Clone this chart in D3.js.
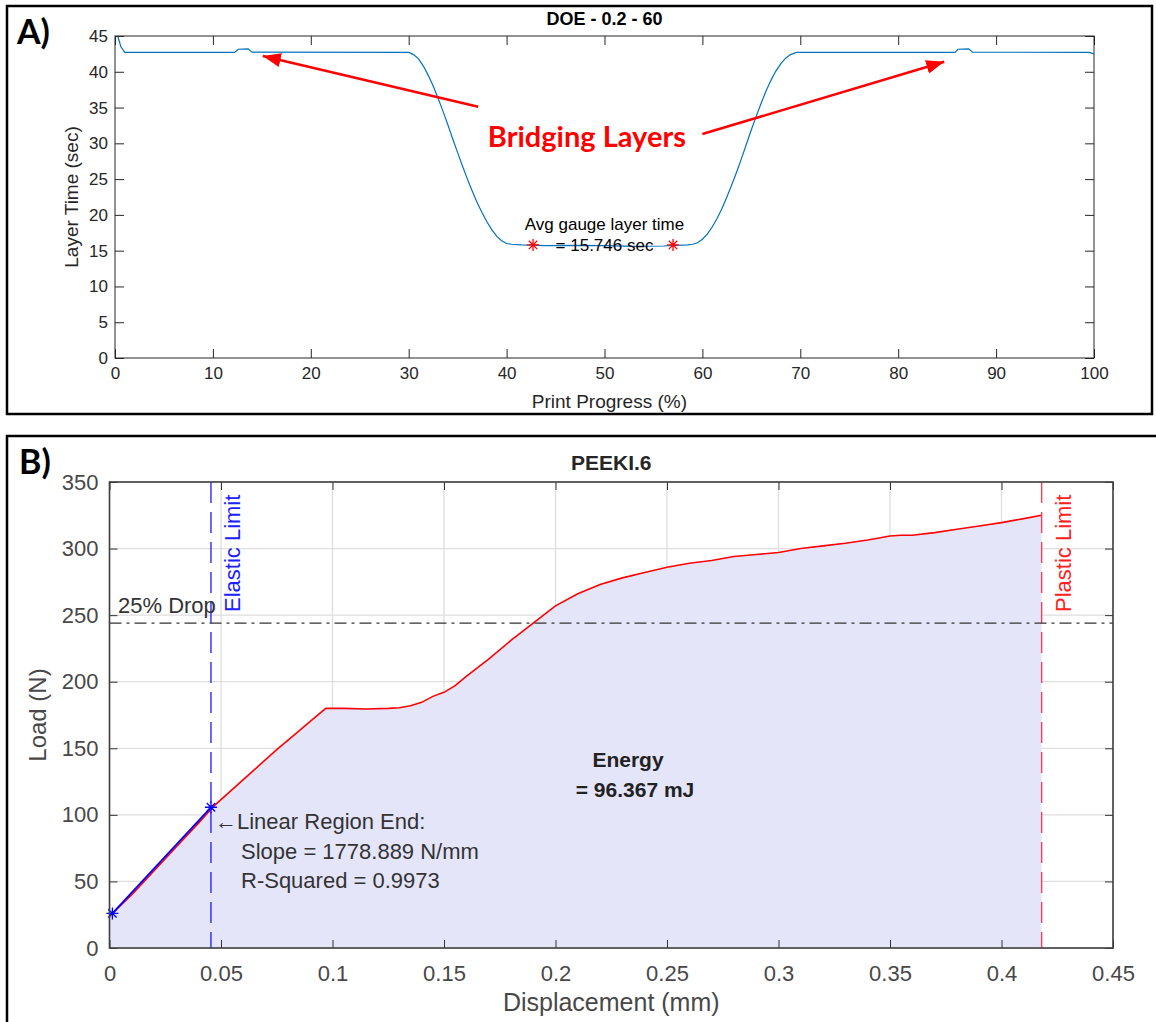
<!DOCTYPE html>
<html>
<head>
<meta charset="utf-8">
<script src="https://cdn.jsdelivr.net/npm/d3@7"></script>
<style>
body{margin:0;background:#fff;}
text{font-family:"Liberation Sans",Arial,sans-serif;}
</style>
</head>
<body>
<div id="chart"></div>
<script>
// ---- panel A data : layer time over the print
var printProgress = [0.3,0.6,1.0,12.2,12.6,13.6,14.0,30.0,30.5,31,31.5,32,32.5,33,33.5,34,34.5,35,35.5,36,36.5,37,37.5,38,38.5,39,39.5,40,40.5,41.5,44,47,50,53,56,58.5,59,59.5,60,60.5,61,61.5,62,62.5,63,63.5,64,64.5,65,65.5,66,66.5,67,67.5,68,68.5,69,69.6,85.8,86.1,87.2,87.6,99.5,100];
var layerTime = [44.9,43.5,42.7,42.7,43.15,43.2,42.75,42.7,42.4,41.8,40.8,39.5,38,36.3,34.5,32.6,30.6,28.7,26.8,25,23.3,21.7,20.3,19,17.9,17,16.4,16,15.9,15.8,15.7,15.75,15.7,15.6,15.65,15.8,15.9,16.1,16.6,17.3,18.3,19.5,20.9,22.5,24.2,26,27.9,29.9,31.9,33.8,35.6,37.3,38.8,40.1,41.1,41.9,42.4,42.7,42.7,43.15,43.2,42.75,42.7,42.5];
var gaugeMarks = [42.7, 57.0];
var gaugeMarkTime = 15.8;
var xTicksA = [0,10,20,30,40,50,60,70,80,90,100];
var yTicksA = [0,5,10,15,20,25,30,35,40,45];

// ---- panel B data : load vs displacement
var displacement = [0,0.0013,0.01,0.02,0.03,0.04,0.047,0.055,0.065,0.075,0.085,0.092,0.097,0.105,0.115,0.125,0.13,0.135,0.14,0.145,0.15,0.155,0.16,0.17,0.18,0.19,0.2,0.21,0.22,0.23,0.24,0.25,0.26,0.27,0.28,0.29,0.3,0.31,0.32,0.33,0.34,0.35,0.355,0.36,0.37,0.38,0.39,0.4,0.41,0.418];
var load = [24,26,40,58,76,94,107,119,134,149,163,173,180,180,179.5,180,180.5,182,184.5,189,192,197,204,217,231,244,257,266,273,278,282,286,289,291,294,295.5,297,300,302,304,306.5,309.5,310,310,312,314.5,317,319.5,322.5,325];
var fitDisp = [0.0013, 0.0455];
var fitLoad = [26, 105.7];
var elasticLimit = 0.0455;
var plasticLimit = 0.418;
var dropLoad = 244;
var xTicksB = [0,0.05,0.1,0.15,0.2,0.25,0.3,0.35,0.4,0.45];
var yTicksB = [0,50,100,150,200,250,300,350];

var svg = d3.select("#chart").append("svg")
	.attr("width", 1156)
	.attr("height", 1022);

var defs = svg.append("defs");
defs.append("marker")
	.attr("id", "arrowRed")
	.attr("markerUnits", "userSpaceOnUse")
	.attr("markerWidth", 20).attr("markerHeight", 14)
	.attr("refX", 18).attr("refY", 7)
	.attr("orient", "auto")
	.append("path").attr("d", "M0,0 L18,7 L0,14 z").attr("fill", "#ff0000");

// MATLAB style '*' marker
function star(g, x, y, r, color){
	var d = "M" + (x - r) + "," + y + "H" + (x + r) +
		"M" + x + "," + (y - r) + "V" + (y + r) +
		"M" + (x - r * 0.7) + "," + (y - r * 0.7) + "L" + (x + r * 0.7) + "," + (y + r * 0.7) +
		"M" + (x - r * 0.7) + "," + (y + r * 0.7) + "L" + (x + r * 0.7) + "," + (y - r * 0.7);
	g.append("path").attr("d", d).attr("stroke", color).attr("stroke-width", 1.3).attr("fill", "none");
}

function panelA(){
	var g = svg.append("g");
	g.append("rect").attr("x", 7).attr("y", 6).attr("width", 1145).attr("height", 408)
		.attr("fill", "none").attr("stroke", "#000").attr("stroke-width", 2.5);
	g.append("text").attr("x", 17).attr("y", 44).text("A)")
		.style("font-family", "Lato").style("font-weight", "bold").style("font-size", "34px");

	var x = d3.scaleLinear().domain([0, 100]).range([115, 1094]);
	var y = d3.scaleLinear().domain([0, 45]).range([358, 36]);

	// box ticks on all four sides
	g.append("g").attr("transform", "translate(0,358)")
		.call(d3.axisBottom(x).tickValues(xTicksA).tickSizeInner(-9).tickSizeOuter(0).tickPadding(9));
	g.append("g").attr("transform", "translate(0,36)")
		.call(d3.axisTop(x).tickValues(xTicksA).tickSizeInner(-9).tickSizeOuter(0).tickFormat(""));
	g.append("g").attr("transform", "translate(115,0)")
		.call(d3.axisLeft(y).tickValues(yTicksA).tickSizeInner(-9).tickSizeOuter(0).tickPadding(7));
	g.append("g").attr("transform", "translate(1094,0)")
		.call(d3.axisRight(y).tickValues(yTicksA).tickSizeInner(-9).tickSizeOuter(0).tickFormat(""));
	g.selectAll(".domain").remove();
	g.selectAll(".tick line").attr("stroke", "#262626");
	g.selectAll(".tick text").style("font-size", "17px").attr("fill", "#262626");
	g.append("rect").attr("x", 115).attr("y", 36).attr("width", 979).attr("height", 322)
		.attr("fill", "none").attr("stroke", "#262626").attr("stroke-width", 1);

	var line = d3.line().x(function(d, i){ return x(printProgress[i]); }).y(function(d){ return y(d); });
	g.append("path").attr("d", line(layerTime))
		.attr("fill", "none").attr("stroke", "#0072BD").attr("stroke-width", 1.2);

	gaugeMarks.forEach(function(m){ star(g, x(m), y(gaugeMarkTime), 6, "#ff0000"); });

	g.append("text").attr("x", x(50)).attr("y", 230).attr("text-anchor", "middle")
		.style("font-size", "17px").attr("fill", "#000").text("Avg gauge layer time");
	g.append("text").attr("x", x(50)).attr("y", 251).attr("text-anchor", "middle")
		.style("font-size", "17px").attr("fill", "#000").text("= 15.746 sec");

	g.append("text").attr("x", x(50)).attr("y", 25).attr("text-anchor", "middle")
		.style("font-size", "18px").style("font-weight", "bold").attr("fill", "#000").text("DOE - 0.2 - 60");
	g.append("text").attr("x", x(50.5)).attr("y", 408).attr("text-anchor", "middle")
		.style("font-size", "19px").attr("fill", "#262626").text("Print Progress (%)");
	g.append("text").attr("transform", "translate(78,197) rotate(-90)").attr("text-anchor", "middle")
		.style("font-size", "19px").attr("fill", "#262626").text("Layer Time (sec)");

	// bridging layer call-out
	g.append("line").attr("x1", x(37.1)).attr("y1", y(35.1)).attr("x2", x(15.1)).attr("y2", y(42.2))
		.attr("stroke", "#ff0000").attr("stroke-width", 2.5).attr("marker-end", "url(#arrowRed)");
	g.append("line").attr("x1", x(60.0)).attr("y1", y(31.3)).attr("x2", x(84.7)).attr("y2", y(41.4))
		.attr("stroke", "#ff0000").attr("stroke-width", 2.5).attr("marker-end", "url(#arrowRed)");
	g.append("text").attr("x", x(48.2)).attr("y", 147).attr("text-anchor", "middle")
		.style("font-family", "Lato").style("font-weight", "bold").style("font-size", "29px")
		.attr("fill", "#ff0000").text("Bridging Layers");
}

function panelB(){
	var g = svg.append("g");
	g.append("rect").attr("x", 7).attr("y", 436).attr("width", 1160).attr("height", 600)
		.attr("fill", "none").attr("stroke", "#000").attr("stroke-width", 2.5);
	g.append("text").attr("x", 19).attr("y", 474).text("B)")
		.style("font-family", "Lato").style("font-weight", "bold").style("font-size", "34px");

	var x = d3.scaleLinear().domain([0, 0.45]).range([109.5, 1113]);
	var y = d3.scaleLinear().domain([0, 350]).range([948, 482]);

	// grid
	g.append("g").selectAll("line").data(xTicksB).join("line")
		.attr("x1", function(d){ return x(d); }).attr("x2", function(d){ return x(d); })
		.attr("y1", 482).attr("y2", 948).attr("stroke", "#dedede").attr("stroke-width", 1.3);
	g.append("g").selectAll("line").data(yTicksB).join("line")
		.attr("y1", function(d){ return y(d); }).attr("y2", function(d){ return y(d); })
		.attr("x1", 109.5).attr("x2", 1113).attr("stroke", "#dedede").attr("stroke-width", 1.3);

	// energy area under curve
	var area = d3.area().x(function(d, i){ return x(displacement[i]); }).y0(y(0)).y1(function(d){ return y(d); });
	g.append("path").attr("d", area(load)).attr("fill", "#e5e5fa");

	var line = d3.line().x(function(d, i){ return x(displacement[i]); }).y(function(d){ return y(d); });
	g.append("path").attr("d", line(load))
		.attr("fill", "none").attr("stroke", "#ff0000").attr("stroke-width", 1.6);

	var fit = d3.line().x(function(d, i){ return x(fitDisp[i]); }).y(function(d){ return y(d); });
	g.append("path").attr("d", fit(fitLoad))
		.attr("fill", "none").attr("stroke", "#0000ff").attr("stroke-width", 1.8);

	// limits
	g.append("line").attr("x1", x(elasticLimit)).attr("x2", x(elasticLimit)).attr("y1", y(350)).attr("y2", y(0))
		.attr("stroke", "#2b2bff").attr("stroke-width", 1.4).attr("stroke-dasharray", "21,9");
	g.append("line").attr("x1", x(plasticLimit)).attr("x2", x(plasticLimit)).attr("y1", y(350)).attr("y2", y(0))
		.attr("stroke", "#f0405a").attr("stroke-width", 1.4).attr("stroke-dasharray", "21,9");
	g.append("line").attr("x1", x(0)).attr("x2", x(0.45)).attr("y1", y(dropLoad)).attr("y2", y(dropLoad))
		.attr("stroke", "#333").attr("stroke-width", 1.3).attr("stroke-dasharray", "12,5,3,5");

	star(g, x(fitDisp[0]), y(fitLoad[0]), 6, "#0000ff");
	star(g, x(fitDisp[1]), y(fitLoad[1]), 6, "#0000ff");

	// axes, ticks inward on all sides
	g.append("g").attr("transform", "translate(0,948)")
		.call(d3.axisBottom(x).tickValues(xTicksB).tickSizeInner(-8).tickSizeOuter(0).tickPadding(17).tickFormat(function(d){ return String(d); }));
	g.append("g").attr("transform", "translate(0,482)")
		.call(d3.axisTop(x).tickValues(xTicksB).tickSizeInner(-8).tickSizeOuter(0).tickFormat(""));
	g.append("g").attr("transform", "translate(109.5,0)")
		.call(d3.axisLeft(y).tickValues(yTicksB).tickSizeInner(-8).tickSizeOuter(0).tickPadding(11));
	g.append("g").attr("transform", "translate(1113,0)")
		.call(d3.axisRight(y).tickValues(yTicksB).tickSizeInner(-8).tickSizeOuter(0).tickFormat(""));
	g.selectAll(".domain").remove();
	g.selectAll(".tick line").attr("stroke", "#333");
	g.selectAll(".tick text").style("font-size", "22px").attr("fill", "#484848");
	g.append("rect").attr("x", 109.5).attr("y", 482).attr("width", 1003.5).attr("height", 466)
		.attr("fill", "none").attr("stroke", "#404040").attr("stroke-width", 1.6);

	// texts
	g.append("text").attr("x", x(0.225)).attr("y", 470).attr("text-anchor", "middle")
		.style("font-size", "21px").style("font-weight", "bold").attr("fill", "#262626").text("PEEKI.6");
	g.append("text").attr("x", x(0.225)).attr("y", 1011).attr("text-anchor", "middle")
		.style("font-size", "25px").attr("fill", "#484848").text("Displacement (mm)");
	g.append("text").attr("transform", "translate(46,715) rotate(-90)").attr("text-anchor", "middle")
		.style("font-size", "24px").attr("fill", "#484848").text("Load (N)");

	g.append("text").attr("transform", "translate(" + (x(elasticLimit) + 29) + ",612) rotate(-90)")
		.style("font-size", "22px").attr("fill", "#2020ff").text("Elastic Limit");
	g.append("text").attr("transform", "translate(" + (x(plasticLimit) + 29) + ",612) rotate(-90)")
		.style("font-size", "22px").attr("fill", "#ff2020").text("Plastic Limit");
	g.append("text").attr("x", 118).attr("y", 613)
		.style("font-size", "22px").attr("fill", "#333").text("25% Drop");

	g.append("text").attr("x", 628).attr("y", 767).attr("text-anchor", "middle")
		.style("font-size", "21px").style("font-weight", "bold").attr("fill", "#222").text("Energy");
	g.append("text").attr("x", 635).attr("y", 797).attr("text-anchor", "middle")
		.style("font-size", "21px").style("font-weight", "bold").attr("fill", "#222").text("= 96.367 mJ");

	g.append("text").attr("x", 215).attr("y", 829)
		.style("font-size", "22px").attr("fill", "#333").text("\u2190Linear Region End:");
	g.append("text").attr("x", 241).attr("y", 859)
		.style("font-size", "22px").attr("fill", "#333").text("Slope = 1778.889 N/mm");
	g.append("text").attr("x", 241).attr("y", 888)
		.style("font-size", "22px").attr("fill", "#333").text("R-Squared = 0.9973");
}

panelA();
panelB();
</script>
</body>
</html>
